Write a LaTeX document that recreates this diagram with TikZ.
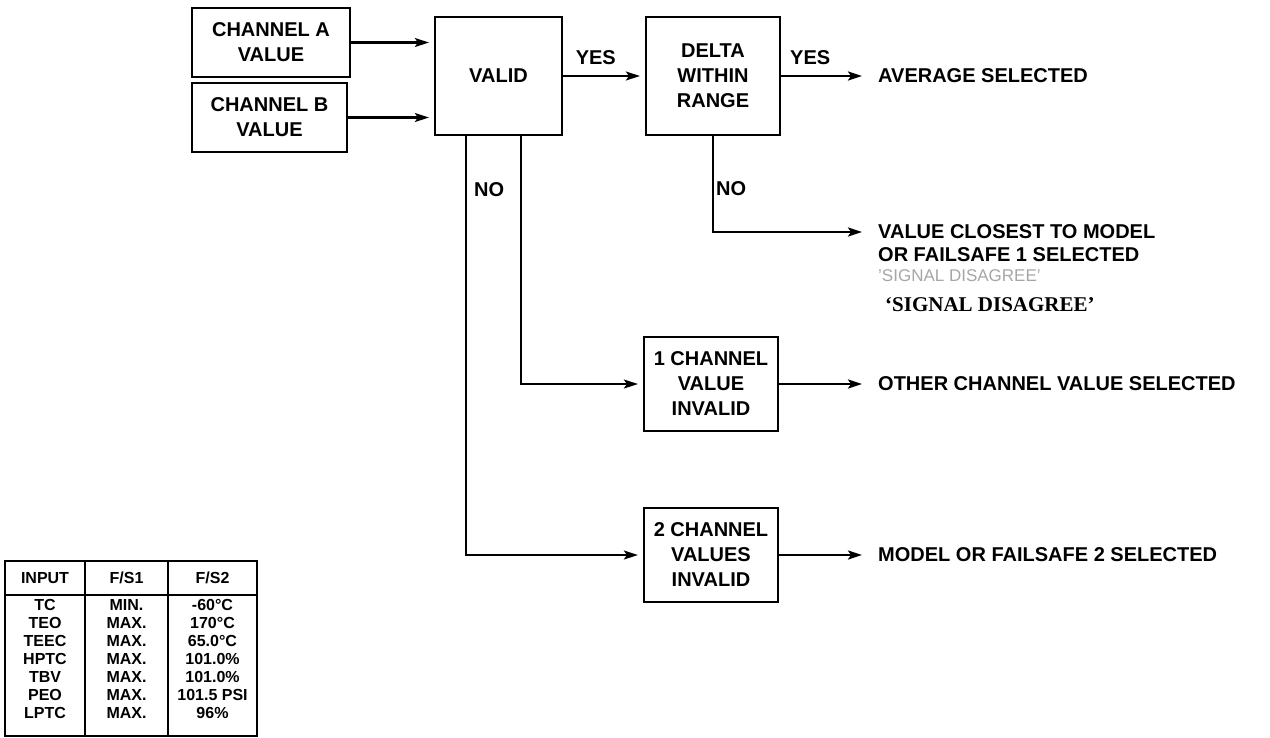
\documentclass[tikz,border=0pt]{standalone}
\usepackage{fontspec}
\setmainfont{Liberation Sans}
\newfontfamily\quotefont{Liberation Serif}
\usetikzlibrary{arrows.meta, positioning}

\newcommand{\flowfont}{\fontsize{20}{25}\selectfont\bfseries}
\newcommand{\tabfont}{\fontsize{16}{18}\selectfont\bfseries}

\begin{document}
\begin{tikzpicture}[x=1pt, y=-1pt, >={Stealth[length=14pt, width=9pt, inset=3pt]},
  box/.style={draw, line width=2.2pt, align=center, inner sep=0pt, font=\flowfont},
  outtext/.style={anchor=west, inner sep=0pt, font=\flowfont},
  flow/.style={->, line width=2.2pt, shorten >=5pt},
  lab/.style={font=\flowfont, inner sep=2pt},
  tabtext/.style={font=\tabfont, inner sep=0pt}]

  \useasboundingbox (0,0) rectangle (1270,737);

  % 1. Valori in ingresso e blocchi di controllo
  \node[box, minimum width=158pt, minimum height=69pt] (chA) at (271,42.5) {CHANNEL A\\VALUE};
  \node[box, minimum width=155pt, minimum height=69pt] (chB) at (269.5,117.5) {CHANNEL B\\VALUE};
  \node[box, minimum width=127pt, minimum height=118pt] (valid) at (498.5,76) {VALID};
  \node[box, minimum width=134pt, minimum height=118pt] (delta) at (713,76) {DELTA\\WITHIN\\RANGE};
  \node[box, minimum width=134pt, minimum height=94pt] (one) at (711,384) {1 CHANNEL\\VALUE\\INVALID};
  \node[box, minimum width=134pt, minimum height=94pt] (two) at (711,555) {2 CHANNEL\\VALUES\\INVALID};

  % 2. Esiti
  \node[outtext] (avg) at (878,76) {AVERAGE SELECTED};
  \node[outtext] (close) at (878,232) {VALUE CLOSEST TO MODEL};
  \node[outtext] (fsone) at (878,255) {OR FAILSAFE 1 SELECTED};
  \node[outtext, font=\fontsize{17}{20}\selectfont, text=gray!70] (faint) at (878,276) {'SIGNAL DISAGREE'};
  \node[outtext, font=\quotefont\fontsize{21}{24}\selectfont\bfseries] (disagree) at (885,305) {‘SIGNAL DISAGREE’};
  \node[outtext] (other) at (878,384) {OTHER CHANNEL VALUE SELECTED};
  \node[outtext] (model) at (878,555) {MODEL OR FAILSAFE 2 SELECTED};

  % 3. Collegamenti
  \draw[flow] (chA.east) -- (chA.east -| valid.west);
  \draw[flow] (chB.east) -- (chB.east -| valid.west);
  \draw[flow] (valid.east) -- node[lab, above, pos=0.4, yshift=8pt] {YES} (delta.west);
  \draw[flow, shorten >=16pt] (delta.east) -- node[lab, above, pos=0.3, yshift=8pt] {YES} (avg.west);
  \draw[flow, shorten >=16pt] (delta.south) -- node[lab, right, pos=0.55] {NO} (delta.south |- close.west) -- (close.west);
  \draw[flow] ([xshift=22.5pt]valid.south) |- (one.west);
  \draw[flow] ([xshift=-32.5pt]valid.south) |- (two.west);
  \node[lab, anchor=west] (validno) at (472,190) {NO};
  \draw[flow, shorten >=16pt] (one.east) -- (other.west);
  \draw[flow, shorten >=16pt] (two.east) -- (model.west);

  % 4. Tabella dei valori di failsafe
  \draw[line width=1.6pt] (5,561) rectangle (257,736);
  \draw[line width=1.6pt] (5,595) -- (257,595);
  \draw[line width=1.4pt] (85,561) -- (85,736);
  \draw[line width=1.4pt] (168,561) -- (168,736);
  \node[tabtext] (hin) at (45,578) {INPUT};
  \node[tabtext] (hfa) at (126.5,578) {F/S1};
  \node[tabtext] (hfb) at (212.5,578) {F/S2};
  \foreach \inp/\fa/\fb [count=\i] in {TC/MIN./-60°C, TEO/MAX./170°C, TEEC/MAX./65.0°C,
      HPTC/MAX./101.0\%, TBV/MAX./101.0\%, PEO/MAX./101.5 PSI, LPTC/MAX./96\%} {
    \node[tabtext] (in\i) at (45,{605+(\i-1)*18}) {\inp};
    \node[tabtext] (fa\i) at (126.5,{605+(\i-1)*18}) {\fa};
    \node[tabtext] (fb\i) at (212.5,{605+(\i-1)*18}) {\fb};
  }

\end{tikzpicture}
\end{document}
